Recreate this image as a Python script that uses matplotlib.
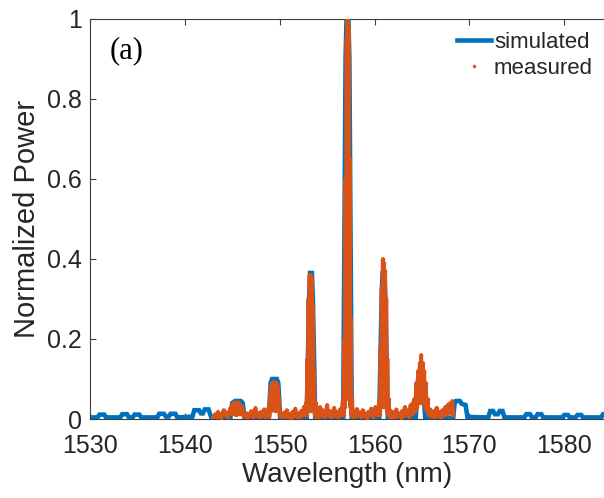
import matplotlib
matplotlib.use("Agg")
import matplotlib.pyplot as plt

# ---------------- data ----------------
sim_wl = [1530, 1530.8, 1531.0, 1531.5, 1531.7, 1533.2, 1533.4, 1533.9, 1534.1, 1534.5, 1534.7,
          1535.2, 1535.4, 1537.1, 1537.3, 1537.8, 1538.0, 1538.3, 1538.5, 1539.0, 1539.2, 1540.8,
          1541.0, 1541.5, 1541.7, 1541.9, 1542.1, 1542.5, 1542.8,
          1544.8, 1545.0, 1545.3, 1545.9, 1546.1, 1546.3,
          1548.85, 1549.05, 1549.2, 1549.7, 1549.85, 1550.05,
          1552.85, 1553.1, 1553.2, 1553.4, 1553.5, 1553.75,
          1556.7, 1556.95, 1557.05, 1557.25, 1557.35, 1557.6,
          1560.5, 1560.75, 1560.85, 1561.05, 1561.15, 1561.4,
          1564.35, 1564.6, 1564.75, 1564.95, 1565.1, 1565.35,
          1568.3, 1568.45, 1568.6, 1569.0, 1569.2, 1569.6, 1569.8,
          1572.0, 1572.2, 1572.5, 1572.7, 1573.0, 1573.2, 1573.5, 1573.7,
          1575.8, 1576.0, 1576.4, 1576.6, 1577.0, 1577.2, 1577.6, 1577.8,
          1579.8, 1580.0, 1580.4, 1580.6, 1581.2, 1581.4, 1581.8, 1582.0,
          1583.9, 1584.1, 1586.0]
sim_pw = [0.004, 0.004, 0.011, 0.011, 0.004, 0.004, 0.012, 0.012, 0.004, 0.004, 0.011,
          0.011, 0.004, 0.004, 0.013, 0.013, 0.006, 0.006, 0.013, 0.013, 0.004, 0.006,
          0.022, 0.022, 0.014, 0.014, 0.024, 0.024, 0.003,
          0.003, 0.040, 0.045, 0.045, 0.040, 0.003,
          0.003, 0.090, 0.100, 0.100, 0.090, 0.003,
          0.003, 0.300, 0.365, 0.365, 0.300, 0.003,
          0.003, 0.900, 1.000, 1.000, 0.900, 0.003,
          0.003, 0.300, 0.365, 0.365, 0.300, 0.003,
          0.003, 0.100, 0.120, 0.120, 0.090, 0.003,
          0.003, 0.040, 0.045, 0.045, 0.038, 0.035, 0.005,
          0.004, 0.020, 0.020, 0.012, 0.012, 0.020, 0.020, 0.004,
          0.004, 0.012, 0.012, 0.004, 0.004, 0.012, 0.012, 0.004,
          0.004, 0.010, 0.010, 0.004, 0.004, 0.010, 0.010, 0.004,
          0.004, 0.012, 0.012]

meas_wl = [1543.0, 1543.2, 1543.35, 1543.5, 1543.65, 1543.8, 1543.95, 1544.1, 1544.25, 1544.4, 1544.55, 1544.7,
           1544.85, 1544.95, 1545.05, 1545.15, 1545.25, 1545.35, 1545.45, 1545.55, 1545.65, 1545.75, 1545.85, 1545.95, 1546.05, 1546.15, 1546.25,
           1546.4, 1546.55, 1546.7, 1546.85, 1547.0, 1547.15, 1547.3, 1547.45, 1547.6, 1547.75, 1547.9, 1548.05, 1548.2, 1548.35, 1548.5, 1548.65,
           1548.85, 1548.92, 1548.98, 1549.04, 1549.1, 1549.16, 1549.22, 1549.28, 1549.34, 1549.4, 1549.46, 1549.52, 1549.58, 1549.64, 1549.7, 1549.76, 1549.82, 1549.88, 1549.94, 1550.02,
           1550.15, 1550.3, 1550.45, 1550.6, 1550.75, 1550.9, 1551.05, 1551.2, 1551.35, 1551.5, 1551.65, 1551.8, 1551.95, 1552.1, 1552.25, 1552.4, 1552.55, 1552.67,
           1552.77, 1552.84, 1552.92, 1552.98, 1553.04, 1553.1, 1553.16, 1553.22, 1553.28, 1553.34, 1553.4, 1553.46, 1553.52, 1553.58, 1553.64, 1553.7, 1553.78, 1553.87,
           1553.97, 1554.1, 1554.25, 1554.4, 1554.55, 1554.7, 1554.85, 1555.0, 1555.15, 1555.3, 1555.45, 1555.6, 1555.75, 1555.9, 1556.05, 1556.2, 1556.35, 1556.48, 1556.58,
           1556.67, 1556.74, 1556.82, 1556.88, 1556.94, 1557.0, 1557.06, 1557.12, 1557.16, 1557.22, 1557.26, 1557.32, 1557.38, 1557.44, 1557.5, 1557.56, 1557.64, 1557.72,
           1557.85, 1558.0, 1558.15, 1558.3, 1558.45, 1558.6, 1558.75, 1558.9, 1559.05, 1559.2, 1559.35, 1559.5, 1559.65, 1559.8, 1559.95, 1560.1, 1560.25, 1560.4,
           1560.5, 1560.57, 1560.64, 1560.7, 1560.76, 1560.82, 1560.88, 1560.94, 1561.0, 1561.06, 1561.12, 1561.18, 1561.24, 1561.3, 1561.36, 1561.42, 1561.5, 1561.6,
           1561.7, 1561.85, 1562.0, 1562.15, 1562.3, 1562.45, 1562.6, 1562.75, 1562.9, 1563.05, 1563.2, 1563.35, 1563.5, 1563.65, 1563.8, 1563.92, 1564.02, 1564.1,
           1564.2, 1564.3, 1564.4, 1564.5, 1564.6, 1564.7, 1564.78, 1564.86, 1564.92, 1565.0, 1565.08, 1565.16, 1565.24, 1565.32, 1565.4, 1565.5, 1565.6, 1565.7,
           1565.8, 1565.95, 1566.1, 1566.25, 1566.4, 1566.55, 1566.7, 1566.85, 1567.0, 1567.15, 1567.3, 1567.45, 1567.6, 1567.75, 1567.9, 1568.0, 1568.1, 1568.2, 1568.3]
meas_pw = [0.004, 0.012, 0.006, 0.018, 0.008, 0.003, 0.014, 0.022, 0.009, 0.016, 0.005, 0.020,
           0.030, 0.012, 0.038, 0.020, 0.042, 0.010, 0.040, 0.018, 0.041, 0.012, 0.036, 0.020, 0.030, 0.008, 0.018,
           0.006, 0.014, 0.004, 0.010, 0.020, 0.005, 0.012, 0.028, 0.007, 0.015, 0.004, 0.018, 0.009, 0.024, 0.006, 0.015,
           0.030, 0.006, 0.065, 0.020, 0.085, 0.030, 0.090, 0.025, 0.092, 0.030, 0.090, 0.020, 0.091, 0.030, 0.088, 0.025, 0.080, 0.020, 0.050, 0.008,
           0.012, 0.004, 0.016, 0.007, 0.022, 0.005, 0.013, 0.003, 0.018, 0.008, 0.026, 0.006, 0.014, 0.004, 0.020, 0.009, 0.030, 0.010,
           0.040, 0.010, 0.150, 0.020, 0.300, 0.050, 0.360, 0.020, 0.360, 0.040, 0.350, 0.030, 0.280, 0.020, 0.120, 0.010, 0.040, 0.005,
           0.018, 0.006, 0.030, 0.010, 0.022, 0.005, 0.015, 0.035, 0.008, 0.020, 0.004, 0.016, 0.028, 0.007, 0.018, 0.005, 0.024, 0.010, 0.030,
           0.050, 0.010, 0.200, 0.030, 0.600, 0.050, 0.950, 0.100, 1.000, 0.300, 0.980, 0.050, 0.650, 0.030, 0.250, 0.010, 0.050, 0.006,
           0.020, 0.007, 0.025, 0.010, 0.016, 0.004, 0.022, 0.008, 0.014, 0.003, 0.018, 0.010, 0.026, 0.006, 0.015, 0.030, 0.010, 0.020,
           0.050, 0.010, 0.180, 0.030, 0.330, 0.050, 0.400, 0.030, 0.390, 0.050, 0.370, 0.030, 0.300, 0.020, 0.150, 0.010, 0.050, 0.005,
           0.020, 0.006, 0.017, 0.004, 0.024, 0.009, 0.014, 0.003, 0.020, 0.008, 0.030, 0.010, 0.022, 0.006, 0.035, 0.012, 0.040, 0.015,
           0.050, 0.020, 0.090, 0.030, 0.120, 0.040, 0.140, 0.050, 0.160, 0.040, 0.140, 0.050, 0.120, 0.030, 0.090, 0.020, 0.050, 0.010,
           0.025, 0.008, 0.020, 0.005, 0.015, 0.028, 0.008, 0.018, 0.004, 0.022, 0.010, 0.030, 0.012, 0.036, 0.015, 0.040, 0.020, 0.045, 0.010]

xticks = [1530, 1540, 1550, 1560, 1570, 1580]
yticks = [0, 0.2, 0.4, 0.6, 0.8, 1]
ytick_labels = ["0", "0.2", "0.4", "0.6", "0.8", "1"]

# ---------------- figure ----------------
BLUE = "#0072BD"
ORANGE = "#D95319"
plt.rcParams['font.family'] = ['Liberation Sans', 'DejaVu Sans']

fig = plt.figure(figsize=(6.04, 4.98), dpi=100)
ax = fig.add_axes([90/604, 79/498, (604-90)/604, 400/498])

ax.plot(sim_wl, sim_pw, color=BLUE, lw=3.3, solid_joinstyle='miter', label="simulated", zorder=2)
ax.plot(meas_wl, meas_pw, color=ORANGE, lw=2.8, zorder=3, label="_nolegend_")
ax.plot(meas_wl, meas_pw, ls='none', marker='.', ms=3, color=ORANGE, zorder=3, label="measured")

ax.set_xlim(1530, 1584.2)
ax.set_ylim(0, 1)
ax.set_xticks(xticks)
ax.set_yticks(yticks)
ax.set_yticklabels(ytick_labels)
ax.tick_params(direction='in', length=4, width=0.8, labelsize=18, color='#404040',
               labelcolor='#262626', top=True, right=False)
ax.tick_params(axis='x', pad=11)
ax.tick_params(axis='y', pad=6)
for s in ['left', 'bottom', 'top']:
    ax.spines[s].set_color('#404040')
    ax.spines[s].set_linewidth(0.8)
ax.spines['right'].set_visible(False)

ax.set_xlabel("Wavelength (nm)", fontsize=20, color='#262626', labelpad=3)
ax.set_ylabel("Normalized Power", fontsize=21, color='#262626', labelpad=4)

ax.text(0.038, 0.92, "(a)", transform=ax.transAxes, fontsize=22,
        family=['Liberation Serif', 'DejaVu Serif'], va='center', ha='left', color='black')

leg = ax.legend(loc='upper right', bbox_to_anchor=(1.0, 0.995), frameon=False, fontsize=16,
                handlelength=1.55, handletextpad=0.12, labelspacing=0.2, borderaxespad=0.1,
                markerscale=1.0)
for t in leg.get_texts():
    t.set_color('#262626')

fig.savefig("out.png", dpi=100)
